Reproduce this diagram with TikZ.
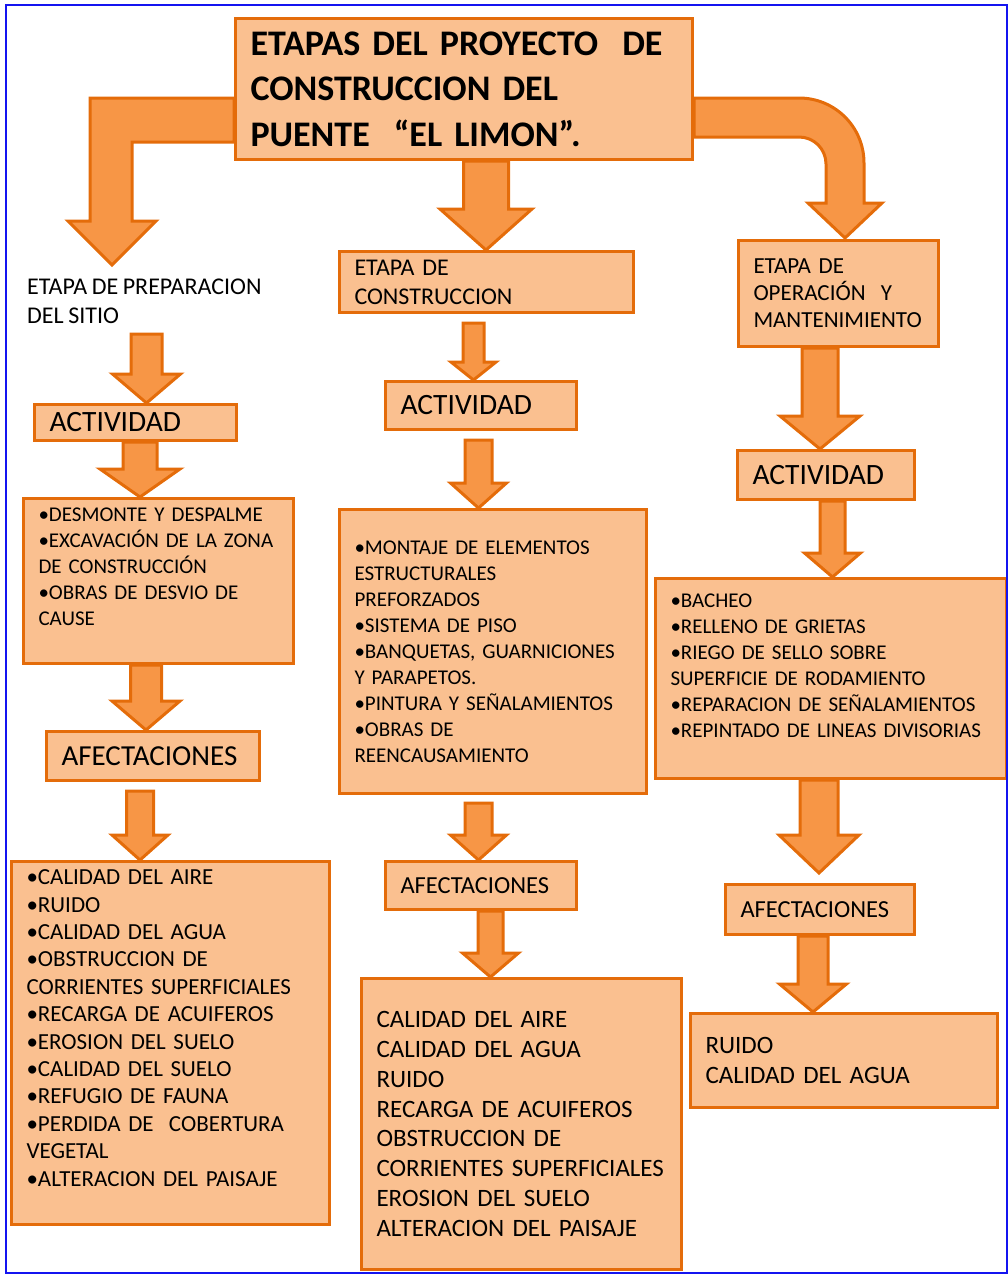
\documentclass[tikz,border=0pt]{standalone}
\usepackage{fontspec}
\setmainfont{Carlito}[WordSpace=0.85]
\usetikzlibrary{positioning, calc}

\definecolor{boxfill}{HTML}{FAC090}
\definecolor{boxline}{HTML}{E46C0A}
\definecolor{arrowfill}{HTML}{F79646}
\definecolor{frameblue}{HTML}{1414F0}

\pgfdeclarelayer{background}
\pgfsetlayers{background,main}

\tikzstyle{stage} = [rectangle, draw=boxline, fill=boxfill, line width=3pt, inner sep=0pt, anchor=north west, align=left]
\tikzstyle{plain} = [inner sep=0pt, anchor=north west, align=left]
\tikzstyle{fatarrow} = [draw=boxline, fill=arrowfill, line width=3pt]
\tikzstyle{framed} = [draw=frameblue, line width=2pt]
\tikzstyle{listfont} = [font=\fontsize{21}{26}\selectfont]
\tikzstyle{actfont} = [font=\fontsize{29.5}{35}\selectfont]
\tikzstyle{afefont} = [font=\fontsize{24.5}{30}\selectfont]
\tikzstyle{efffont} = [font=\fontsize{25}{29.8}\selectfont]
\tikzset{boxsize/.style 2 args={minimum width=#1, minimum height=#2, text width=#1-30}}
% extra depth under the last line, lifts the text in its box
\newcommand{\lift}[1]{\rule[-#1]{0pt}{#1}}

% x of the shaft, from, to, half shaft, half head, head length
\newcommand{\blockarrow}[6]{%
  \path[fatarrow] let \p1=#2, \p2=#3 in
    (#1pt-#4pt,\y1) -- (#1pt+#4pt,\y1) -- (#1pt+#4pt,\y2+#6pt)
    -- (#1pt+#5pt,\y2+#6pt) -- (#1pt,\y2) -- (#1pt-#5pt,\y2+#6pt)
    -- (#1pt-#4pt,\y2+#6pt) -- cycle;}

\begin{document}
\begin{tikzpicture}[x=1pt, y=-1pt]
\useasboundingbox (0,0) rectangle (1008,1282);

\node (title) [stage, boxsize={457}{141}, font=\bfseries\fontsize{36}{45.5}\selectfont] at (234,17) {ETAPAS DEL PROYECTO\ \ DE\\CONSTRUCCION DEL\\PUENTE\ \ “EL LIMON”.};

\node (prep) [plain, font=\fontsize{24}{29}\selectfont] at (27,279) {ETAPA DE PREPARACION\\DEL SITIO};
\node (etapa2) [stage, boxsize={294}{61}, font=\fontsize{24}{29}\selectfont] at (338,250) {ETAPA DE\\CONSTRUCCION};
\node (etapa3) [stage, boxsize={200}{106}, font=\fontsize{23}{27}\selectfont] at (737,239) {ETAPA DE\\OPERACIÓN\ \ Y\\MANTENIMIENTO};

\node (act1) [stage, boxsize={202}{36}, actfont] at (33,403) {ACTIVIDAD};
\node (act2) [stage, boxsize={191}{48}, actfont] at (384,380) {ACTIVIDAD};
\node (act3) [stage, boxsize={177}{49}, actfont] at (736,449) {ACTIVIDAD};

\node (list1) [stage, boxsize={270}{165}, listfont] at (22,497) {•DESMONTE Y DESPALME\\\mbox{•EXCAVACIÓN DE LA ZONA}\\DE CONSTRUCCIÓN\\•OBRAS DE DESVIO DE\\CAUSE\lift{28pt}};
\node (list2) [stage, boxsize={307}{284}, listfont] at (338,508) {•MONTAJE DE ELEMENTOS\\ESTRUCTURALES\\PREFORZADOS\\•SISTEMA DE PISO\\•BANQUETAS, GUARNICIONES\\Y PARAPETOS.\\•PINTURA Y SEÑALAMIENTOS\\•OBRAS DE\\REENCAUSAMIENTO};
\node (list3) [stage, boxsize={351}{200}, listfont] at (654,577) {•BACHEO\\•RELLENO DE GRIETAS\\•RIEGO DE SELLO SOBRE\\SUPERFICIE DE RODAMIENTO\\•REPARACION DE SEÑALAMIENTOS\\•REPINTADO DE LINEAS DIVISORIAS\lift{26pt}};

\node (afe1) [stage, boxsize={213}{49}, font=\fontsize{29}{35}\selectfont] at (45,730) {AFECTACIONES};
\node (afe2) [stage, boxsize={191}{48}, afefont] at (384,860) {AFECTACIONES};
\node (afe3) [stage, boxsize={189}{50}, afefont] at (724,883) {AFECTACIONES};

\node (eff1) [stage, boxsize={318}{363}, font=\fontsize{23}{27.4}\selectfont] at (10,860) {•CALIDAD DEL AIRE\\•RUIDO\\•CALIDAD DEL AGUA\\•OBSTRUCCION DE\\CORRIENTES SUPERFICIALES\\•RECARGA DE ACUIFEROS\\•EROSION DEL SUELO\\•CALIDAD DEL SUELO\\•REFUGIO DE FAUNA\\•PERDIDA DE\ \ COBERTURA\\VEGETAL\\•ALTERACION DEL PAISAJE\lift{30pt}};
\node (eff2) [stage, boxsize={320}{291}, efffont] at (360,977) {CALIDAD DEL AIRE\\CALIDAD DEL AGUA\\RUIDO\\RECARGA DE ACUIFEROS\\OBSTRUCCION DE\\CORRIENTES SUPERFICIALES\\EROSION DEL SUELO\\ALTERACION DEL PAISAJE};
\node (eff3) [stage, boxsize={307}{94}, efffont] at (689,1012) {RUIDO\\CALIDAD DEL AGUA};

\begin{pgfonlayer}{background}
\path[fatarrow] (title.west |- 0,98) -- (90,98) -- (90,221) -- (68,221) -- (112,265) -- (156,221) -- (132,221) -- (132,142) -- (title.west |- 0,142) -- cycle;
\path[fatarrow] (title.east |- 0,98) -- (799,98) .. controls (835,98) and (864,127) .. (864,163) -- (864,203) -- (882,203) -- (845,238) -- (808,203) -- (826,203) -- (826,164) .. controls (826,149) and (814,137) .. (799,137) -- (title.east |- 0,137) -- cycle;
\blockarrow{486}{(title.south)}{(etapa2.north)}{22.5}{46}{41}

\blockarrow{146.5}{([yshift=-10pt]prep.south)}{(act1.north)}{15.5}{34}{29}
\blockarrow{140}{(act1.south)}{(list1.north)}{17}{40}{28}
\blockarrow{146}{(list1.south)}{(afe1.north)}{15.5}{34}{29}
\blockarrow{140}{([yshift=-9pt]afe1.south)}{(eff1.north)}{13.5}{28}{25}

\blockarrow{473.5}{([yshift=-9pt]etapa2.south)}{(act2.north)}{10.5}{22.5}{18}
\blockarrow{478.5}{([yshift=-9pt]act2.south)}{(list2.north)}{13.5}{28}{25}
\blockarrow{478.5}{([yshift=-8pt]list2.south)}{(afe2.north)}{13.5}{28}{25}
\blockarrow{490.5}{(afe2.south)}{(eff2.north)}{12.5}{28}{24}

\blockarrow{820}{(etapa3.south)}{(act3.north)}{18}{40}{33}
\blockarrow{832.5}{(act3.south)}{(list3.north)}{12.5}{28}{24}
\blockarrow{819}{(list3.south)}{([yshift=10pt]afe3.north)}{19}{40}{38}
\blockarrow{813}{(afe3.south)}{(eff3.north)}{15}{33.5}{28}
\end{pgfonlayer}

\draw [framed] (6,5) rectangle (1007,1273);

\end{tikzpicture}
\end{document}
